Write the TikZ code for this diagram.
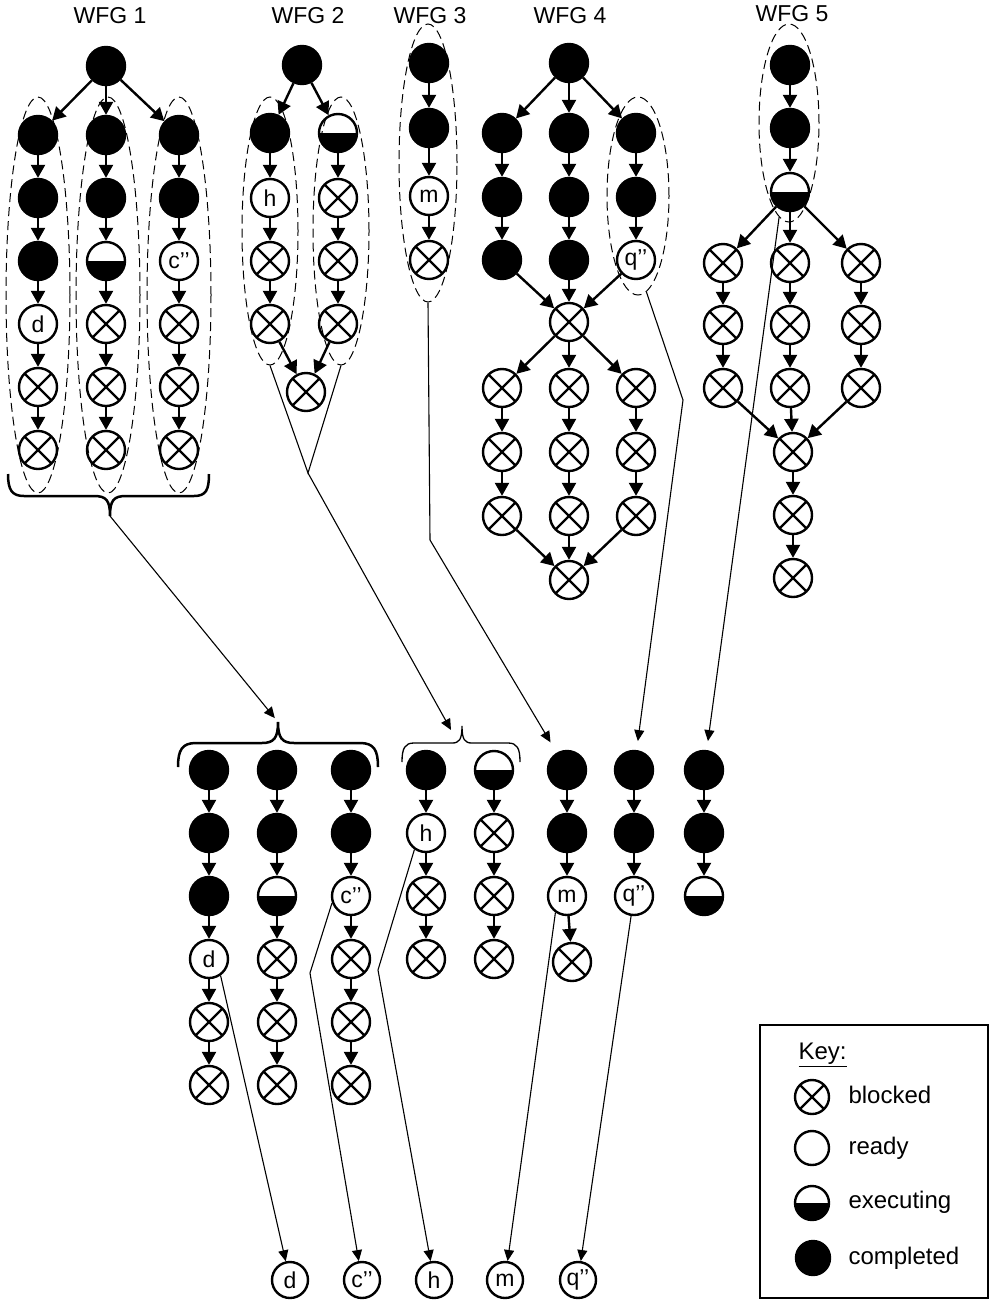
\documentclass[tikz,border=0pt]{standalone}
\usepackage{fontspec}
\setmainfont{Liberation Sans}
\usetikzlibrary{arrows.meta,shapes.geometric}
\begin{document}
\begin{tikzpicture}[x=1pt,y=-1pt,
  task/.style={circle,draw,line width=2.4pt,minimum size=38pt,inner sep=0pt,
    font=\fontsize{23}{23}\selectfont},
  done/.style={task,fill=black},
  ready/.style={task,fill=white},
  blocked/.style={task,path picture={
    \draw[line width=2.4pt]
      (path picture bounding box.north west) -- (path picture bounding box.south east)
      (path picture bounding box.north east) -- (path picture bounding box.south west);}},
  running/.style={task,path picture={
    \fill (path picture bounding box.west) rectangle (path picture bounding box.south east);}},
  dep/.style={line width=2.4pt,-{Triangle[length=13pt,width=14pt]}},
  link/.style={line width=1.1pt,-{Triangle[length=11pt,width=10pt]}},
  plain/.style={line width=1.1pt},
  group/.style={ellipse,draw,dash pattern=on 9pt off 5pt,line width=1pt,inner sep=0pt},
  bracethick/.style={line width=2.5pt},
  bracethin/.style={line width=1.3pt},
  title/.style={font=\fontsize{23}{23}\selectfont},
  keytext/.style={anchor=west,font=\fontsize{24}{24}\selectfont},
]
\useasboundingbox (0,0) rectangle (992,1304);

% ---------------- WFG 1 ----------------
\node[title] (t1) at (110,16) {WFG 1};
\node[done] (a0) at (106,66) {};
\node[done] (a11) at (38,135) {};
\node[done] (a12) at (38,198) {};
\node[done] (a13) at (38,261) {};
\node[ready] (a14) at (38,324) {d};
\node[blocked] (a15) at (38,387) {};
\node[blocked] (a16) at (38,450) {};
\node[done] (a21) at (106,135) {};
\node[done] (a22) at (106,198) {};
\node[running] (a23) at (106,261) {};
\node[blocked] (a24) at (106,324) {};
\node[blocked] (a25) at (106,387) {};
\node[blocked] (a26) at (106,450) {};
\node[done] (a31) at (179,135) {};
\node[done] (a32) at (179,198) {};
\node[ready] (a33) at (179,261) {c’’};
\node[blocked] (a34) at (179,324) {};
\node[blocked] (a35) at (179,387) {};
\node[blocked] (a36) at (179,450) {};
\foreach \c in {1,2,3} {
  \draw[dep] (a0) -- (a\c1);
  \foreach \r [count=\n from 2] in {1,...,5} \draw[dep] (a\c\r) -- (a\c\n);
}
\node[group,minimum width=64pt,minimum height=396pt] (ga1) at (38,295) {};
\node[group,minimum width=64pt,minimum height=396pt] (ga2) at (108,295) {};
\node[group,minimum width=64pt,minimum height=396pt] (ga3) at (179,295) {};
\coordinate (br1) at (110,516);
\draw[bracethick] (8,474) .. controls (8,490) and (12,496) .. (24,496) -- (94,496)
  .. controls (106,496) and (110,500) .. (br1)
  .. controls (110,500) and (114,496) .. (126,496) -- (194,496)
  .. controls (206,496) and (209,490) .. (209,474);

% ---------------- WFG 2 ----------------
\node[title] (t2) at (308,16) {WFG 2};
\node[done] (b0) at (302,65) {};
\node[done] (b11) at (270,133) {};
\node[ready] (b12) at (270,198) {h};
\node[blocked] (b13) at (270,261) {};
\node[blocked] (b14) at (270,324) {};
\node[running] (b21) at (338,133) {};
\node[blocked] (b22) at (338,198) {};
\node[blocked] (b23) at (338,261) {};
\node[blocked] (b24) at (338,324) {};
\node[blocked] (bj) at (306,392) {};
\foreach \c in {1,2} {
  \draw[dep] (b0) -- (b\c1);
  \foreach \r [count=\n from 2] in {1,2,3} \draw[dep] (b\c\r) -- (b\c\n);
  \draw[dep] (b\c4) -- (bj);
}
\node[group,minimum width=56pt,minimum height=268pt] (gb1) at (270,231) {};
\node[group,minimum width=56pt,minimum height=268pt] (gb2) at (341,231) {};
\coordinate (m2) at (308,473);
\draw[plain] (gb1.south) -- (m2) -- (gb2.south);

% ---------------- WFG 3 ----------------
\node[title] (t3) at (430,16) {WFG 3};
\node[done] (c1) at (429,63) {};
\node[done] (c2) at (429,128) {};
\node[ready] (c3) at (429,196) {m};
\node[blocked] (c4) at (429,260) {};
\draw[dep] (c1) -- (c2);
\draw[dep] (c2) -- (c3);
\draw[dep] (c3) -- (c4);
\node[group,minimum width=58pt,minimum height=278pt] (gc) at (428,163) {};
\coordinate (k3) at (430,540);

% ---------------- WFG 4 ----------------
\node[title] (t4) at (570,16) {WFG 4};
\node[done] (d0) at (569,63) {};
\node[done] (d11) at (502,133) {};
\node[done] (d12) at (502,197) {};
\node[done] (d13) at (502,260) {};
\node[done] (d21) at (569,133) {};
\node[done] (d22) at (569,197) {};
\node[done] (d23) at (569,260) {};
\node[done] (d31) at (636,133) {};
\node[done] (d32) at (636,197) {};
\node[ready] (d33) at (636,260) {q’’};
\node[blocked] (dj) at (569,322) {};
\node[blocked] (e11) at (502,388) {};
\node[blocked] (e12) at (502,452) {};
\node[blocked] (e13) at (502,516) {};
\node[blocked] (e21) at (569,388) {};
\node[blocked] (e22) at (569,452) {};
\node[blocked] (e23) at (569,516) {};
\node[blocked] (e31) at (636,388) {};
\node[blocked] (e32) at (636,452) {};
\node[blocked] (e33) at (636,516) {};
\node[blocked] (ej) at (569,580) {};
\foreach \c in {1,2,3} {
  \draw[dep] (d0) -- (d\c1);
  \draw[dep] (d\c1) -- (d\c2);
  \draw[dep] (d\c2) -- (d\c3);
  \draw[dep] (d\c3) -- (dj);
  \draw[dep] (dj) -- (e\c1);
  \draw[dep] (e\c1) -- (e\c2);
  \draw[dep] (e\c2) -- (e\c3);
  \draw[dep] (e\c3) -- (ej);
}
\node[group,minimum width=62pt,minimum height=198pt] (gd) at (638,196) {};
\coordinate (k4) at (683,400);

% ---------------- WFG 5 ----------------
\node[title] (t5) at (792,14) {WFG 5};
\node[done] (f1) at (790,65) {};
\node[done] (f2) at (790,128) {};
\node[running] (f3) at (790,192) {};
\node[blocked] (g11) at (723,263) {};
\node[blocked] (g12) at (723,325) {};
\node[blocked] (g13) at (723,388) {};
\node[blocked] (g21) at (790,263) {};
\node[blocked] (g22) at (790,325) {};
\node[blocked] (g23) at (790,388) {};
\node[blocked] (g31) at (861,263) {};
\node[blocked] (g32) at (861,325) {};
\node[blocked] (g33) at (861,388) {};
\node[blocked] (fj) at (793,452) {};
\node[blocked] (fk) at (793,515) {};
\node[blocked] (fl) at (793,578) {};
\draw[dep] (f1) -- (f2);
\draw[dep] (f2) -- (f3);
\foreach \c in {1,2,3} {
  \draw[dep] (f3) -- (g\c1);
  \draw[dep] (g\c1) -- (g\c2);
  \draw[dep] (g\c2) -- (g\c3);
  \draw[dep] (g\c3) -- (fj);
}
\draw[dep] (fj) -- (fk);
\draw[dep] (fk) -- (fl);
\node[group,minimum width=60pt,minimum height=198pt] (gf) at (789,123) {};

% ---------------- combined ready lists ----------------
\coordinate (lb1) at (278,722);
\draw[bracethick] (178,767) .. controls (178,750) and (182,743) .. (196,743) -- (262,743)
  .. controls (274,743) and (278,738) .. (lb1)
  .. controls (278,738) and (282,743) .. (294,743) -- (360,743)
  .. controls (374,743) and (378,750) .. (378,767);
\coordinate (lb2) at (462,726);
\coordinate (lb2in) at (451,730);
\draw[bracethin] (402,762) .. controls (402,748) and (405,743) .. (414,743) -- (452,743)
  .. controls (459,743) and (462,740) .. (lb2)
  .. controls (462,740) and (465,743) .. (472,743) -- (508,743)
  .. controls (517,743) and (520,748) .. (520,762);

\node[done] (p11) at (209,770) {};
\node[done] (p12) at (209,833) {};
\node[done] (p13) at (209,896) {};
\node[ready] (p14) at (209,959) {d};
\node[blocked] (p15) at (209,1022) {};
\node[blocked] (p16) at (209,1085) {};
\node[done] (p21) at (277,770) {};
\node[done] (p22) at (277,833) {};
\node[running] (p23) at (277,896) {};
\node[blocked] (p24) at (277,959) {};
\node[blocked] (p25) at (277,1022) {};
\node[blocked] (p26) at (277,1085) {};
\node[done] (p31) at (351,770) {};
\node[done] (p32) at (351,833) {};
\node[ready] (p33) at (351,896) {c’’};
\node[blocked] (p34) at (351,959) {};
\node[blocked] (p35) at (351,1022) {};
\node[blocked] (p36) at (351,1085) {};
\foreach \c in {1,2,3}
  \foreach \r [count=\n from 2] in {1,...,5} \draw[dep] (p\c\r) -- (p\c\n);

\node[done] (h11) at (426,770) {};
\node[ready] (h12) at (426,833) {h};
\node[blocked] (h13) at (426,896) {};
\node[blocked] (h14) at (426,959) {};
\node[running] (h21) at (494,770) {};
\node[blocked] (h22) at (494,833) {};
\node[blocked] (h23) at (494,896) {};
\node[blocked] (h24) at (494,959) {};
\foreach \c in {1,2}
  \foreach \r [count=\n from 2] in {1,2,3} \draw[dep] (h\c\r) -- (h\c\n);

\node[done] (m1) at (567,770) {};
\node[done] (m2n) at (567,833) {};
\node[ready] (m3) at (567,896) {m};
\node[blocked] (m4) at (572,962) {};
\draw[dep] (m1) -- (m2n);
\draw[dep] (m2n) -- (m3);
\draw[dep] (m3) -- (m4);

\node[done] (q1) at (634,770) {};
\node[done] (q2) at (634,833) {};
\node[ready] (q3) at (634,896) {q’’};
\draw[dep] (q1) -- (q2);
\draw[dep] (q2) -- (q3);

\node[done] (w1) at (704,770) {};
\node[done] (w2) at (704,833) {};
\node[running] (w3) at (704,896) {};
\draw[dep] (w1) -- (w2);
\draw[dep] (w2) -- (w3);

% ---------------- links from the graphs to the lists ----------------
\draw[link,shorten >=5pt] (br1) -- (lb1);
\draw[link] (m2) -- (lb2in);
\draw[plain] (gc.south) -- (k3);
\draw[link,shorten >=12pt] (k3) -- (m1);
\draw[plain] (gd.-85) -- (k4);
\draw[link,shorten >=9pt] (k4) -- (q1);
\draw[link,shorten >=9pt] (gf.-96) -- (w1);

% ---------------- ready tasks ----------------
\node[ready,minimum size=36pt] (Bd) at (290,1280) {d};
\node[ready,minimum size=36pt] (Bc) at (362,1280) {c’’};
\node[ready,minimum size=36pt] (Bh) at (434,1280) {h};
\node[ready,minimum size=36pt] (Bm) at (505,1280) {m};
\node[ready,minimum size=36pt] (Bq) at (578,1280) {q’’};
\coordinate (kc) at (310,973);
\coordinate (kh) at (378,970);
\draw[link] (p14.-55) -- (Bd);
\draw[link] (p33.200) -- (kc) -- (Bc);
\draw[link] (h12.235) -- (kh) -- (Bh);
\draw[link] (m3.235) -- (Bm);
\draw[link] (q3) -- (Bq);

% ---------------- key ----------------
\node[draw,line width=1.1pt,minimum width=228pt,minimum height=273pt,inner sep=0pt] (keybox) at (874,1161.5) {};
\node[keytext] (keyt) at (795,1055) {\underline{Key:}};
\node[blocked,minimum size=34pt] (kb) at (812,1097) {};
\node[ready,minimum size=34pt] (kr) at (812,1148) {};
\node[running,minimum size=34pt] (ke) at (812,1203) {};
\node[done,minimum size=34pt] (kd) at (813,1258) {};
\node[keytext] (kbt) at (845,1095) {blocked};
\node[keytext] (krt) at (845,1148) {ready};
\node[keytext] (ket) at (845,1202) {executing};
\node[keytext] (kdt) at (845,1258) {completed};
\end{tikzpicture}
\end{document}
